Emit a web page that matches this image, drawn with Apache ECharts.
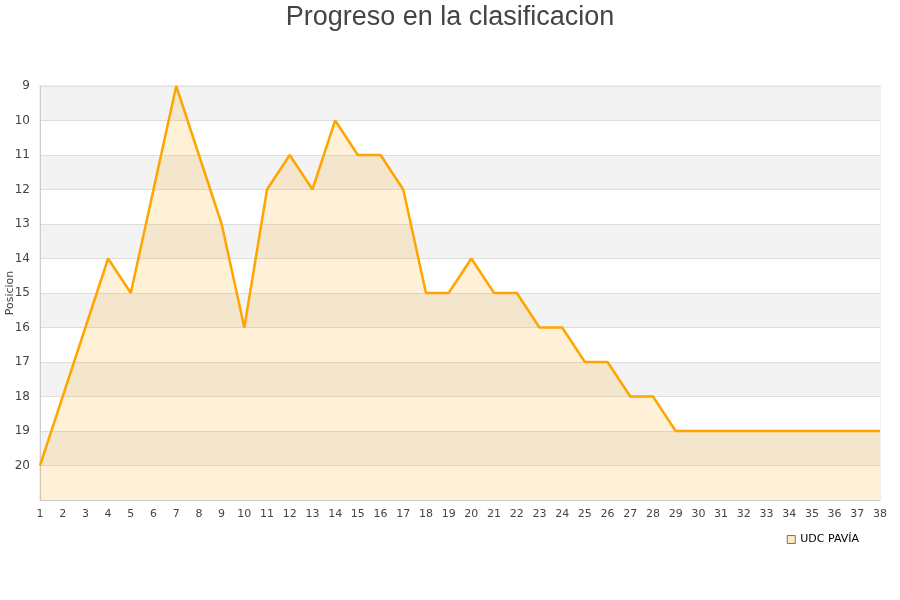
<!DOCTYPE html>
<html><head><meta charset="utf-8">
<script src="https://cdn.jsdelivr.net/npm/echarts@6/dist/echarts.min.js"></script>
<style>html,body{margin:0;padding:0;background:#fff}#c{width:900px;height:600px}</style>
</head><body><div id="c"></div>
<script>
const jornadas = ['1','2','3','4','5','6','7','8','9','10','11','12','13','14','15','16','17','18','19','20','21','22','23','24','25','26','27','28','29','30','31','32','33','34','35','36','37','38'];
const posiciones = [20,18,16,14,15,12,9,11,13,16,12,11,12,10,11,11,12,15,15,14,15,15,16,16,17,17,18,18,19,19,19,19,19,19,19,19,19,19];
const seriesName = 'UDC PAVÍA';
const yName = 'Posicion';
const chart = echarts.init(document.getElementById('c'), null, {renderer:'canvas'});
chart.setOption({
  animation:false,
  title:{text:'Progreso en la clasificacion', left:'center', top:-1,
    textStyle:{fontFamily:'Liberation Sans, Arial', fontSize:27, fontWeight:'normal', color:'#444'}},
  grid:{left:40, right:20, top:86, bottom:100, containLabel:false, outerBoundsMode:'none',
    show:true, borderColor:'#ddd', borderWidth:1, backgroundColor:'transparent'},
  legend:{data:[{name:seriesName, icon:'rect'}], right:36, top:529, itemWidth:8, itemHeight:8,
    itemStyle:{color:'#ffe9c0', borderColor:'#777', borderWidth:1},
    textStyle:{fontFamily:'DejaVu Sans', fontSize:11, color:'#000'}},
  graphic:[{type:'text', x:10, y:293, rotation:Math.PI/2,
    style:{text:yName, align:'center', verticalAlign:'middle',
      font:'11px "DejaVu Sans"', fill:'#444'}}],
  xAxis:{type:'category', data:jornadas, boundaryGap:false,
    axisLine:{show:true, lineStyle:{color:'#ccc'}}, axisTick:{show:false},
    axisLabel:{interval:0, fontFamily:'DejaVu Sans', fontSize:11, color:'#444', margin:9},
    splitLine:{show:false}},
  yAxis:{type:'value', inverse:true, min:9, max:21, interval:1,
    axisLine:{show:true, lineStyle:{color:'#ccc'}}, axisTick:{show:false},
    axisLabel:{fontFamily:'DejaVu Sans', fontSize:12, color:'#444', margin:10,
      formatter:v=> v===21 ? '' : String(v)},
    splitLine:{show:true, lineStyle:{color:'#ddd'}},
    splitArea:{show:true, areaStyle:{color:['#f3f3f3','#ffffff']}}},
  series:[{name:seriesName, type:'line', data:posiciones, symbol:'none',
    lineStyle:{color:'#ffa500', width:2.5}, itemStyle:{color:'#ffe9c0'},
    areaStyle:{origin:'end', color:'rgba(255,165,0,0.22)'}}]
});
</script></body></html>
